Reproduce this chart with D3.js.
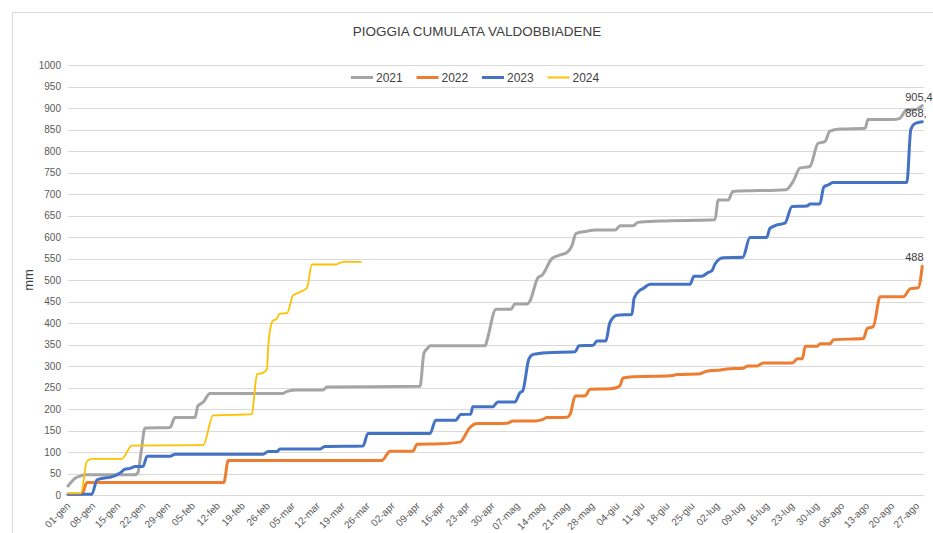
<!DOCTYPE html>
<html><head><meta charset="utf-8">
<script src="https://cdn.jsdelivr.net/npm/d3@7"></script>
<style>
body{margin:0;background:#fff}
svg{display:block}
text{font-family:"Liberation Sans",Arial,sans-serif}
</style>
</head><body>
<svg id="c" width="933" height="533"></svg>
<script>
const title = "PIOGGIA CUMULATA VALDOBBIADENE";
const yTitle = "mm";
const years = ["2021", "2022", "2023", "2024"];
const colors = ["#A5A5A5", "#ED7D31", "#4472C4", "#FFC000"];
const xTickLabels = ["01-gen","08-gen","15-gen","22-gen","29-gen","05-feb","12-feb","19-feb","26-feb",
  "05-mar","12-mar","19-mar","26-mar","02-apr","09-apr","16-apr","23-apr","30-apr","07-mag","14-mag",
  "21-mag","28-mag","04-giu","11-giu","18-giu","25-giu","02-lug","09-lug","16-lug","23-lug","30-lug",
  "06-ago","13-ago","20-ago","27-ago"];
const yTicks = [0,50,100,150,200,250,300,350,400,450,500,550,600,650,700,750,800,850,900,950,1000];
// [day since 1 Jan, cumulative mm]
const s2021 = [[0,21],[2,39],[3.4,44],[4.8,47],[18.8,47],[19.6,52],[20.5,100],[21.6,156],[28.6,157],[30,180],
  [35.6,180],[36.4,207],[37.9,216],[39.8,236],[60.3,236],[61.4,241],[64.2,244],[71.5,244],[72.6,251],[98.7,253],
  [99.8,330],[100.7,340],[101.5,347],[117,347],[117.5,360],[120,432],[124.2,432],[125.3,444],[128.7,444],[129.5,451],
  [131.8,506],[132.9,511],[135.7,550],[137.9,558],[139.9,564],[141.3,580],[142.4,608],[145,613],[148.3,616],[153.4,616],
  [154.8,626],[158.4,626],[159.8,634],[166,637],[181.4,640],[182.3,686],[185.1,686],[186.4,706],[201.3,710],[203.3,729],
  [205.2,760],[208,764],[210.3,818],[212.2,822],[213.6,846],[216.4,851],[223.5,853],[224.3,873],[231.3,873],[233.2,876],
  [235.2,896],[237.5,896],[239.5,905.4]];
const s2022 = [[0,2],[3.9,2],[5.3,29],[43.7,29],[44.9,80],[88,80],[90.3,102],[96.7,102],[97.9,118],[104.3,119],
  [109.9,123],[112.7,157],[114.7,166],[123.1,167],[124.8,172],[130.9,172],[133.2,176],[134.3,180],[139.9,181],[140.8,188],
  [142.2,230],[145,231],[146.4,246],[152,247],[153.9,250],[154.8,255],[155.6,272],[158.4,275],[164,276],[169.6,278],
  [170.7,280],[177.2,282],[179.1,288],[182,290],[184.8,293],[189.3,295],[190.7,300],[193.2,300],[194.9,307],[203.1,307],
  [204.5,317],[205.9,317],[206.7,346],[210.1,346],[210.9,352],[213.7,352],[214.6,361],[223,364],[224.1,387],[225.8,392],
  [227.7,461],[234.2,461],[236.2,480],[238.4,482],[239.5,532]];
const s2023 = [[0,2],[6.7,2],[8.1,35],[9.8,39],[11.8,41],[14.6,51],[16,60],[17.4,62],[18.8,66],[21,66],[22.2,90],
  [28.6,90],[30,95],[54.7,95],[56.1,101],[58.6,101],[59.4,107],[70.7,107],[72,113],[82.7,114],[84.1,143],[101.5,143],
  [103.1,174],[108.7,174],[110.1,187],[112.9,188],[113.5,205],[119.1,205],[120.5,216],[125.3,216],[126.7,238],[127.5,242],
  [129.2,316],[130.4,327],[134.3,331],[142.1,333],[143.3,347],[147.2,348],[148.3,358],[150.8,358],[151.9,400],[153.9,418],
  [158.1,420],[158.7,457],[160.3,476],[161.2,480],[163.2,490],[174.4,490],[175.5,509],[177.7,509],[179.4,517],[180.5,521],
  [181.4,537],[183.6,552],[189.2,553],[191.2,599],[195.9,599],[196.8,620],[198.8,628],[201,632],[203,671],[207.2,672],
  [208,677],[210.8,677],[211.9,716],[213.1,721],[214.5,727],[235.2,727],[236.3,850],[237.5,864],[239.5,868]];
const s2024 = [[0,4],[3.6,4],[5.3,78],[6.7,84],[15.1,84],[17.9,115],[37.9,116],[40.7,185],[51.6,188],[52.2,230],
  [53,281],[54.7,284],[55.8,293],[56.1,340],[56.4,369],[57.5,406],[58.3,408],[59.4,422],[61.4,423],[63.1,464],
  [65,472],[67,482],[68.4,536],[75.1,536],[76.3,540],[77.1,542],[82.1,542]];
const endLabels = [["2021","905,4"],["2023","868,"],["2022","488"]];

const series = [s2021, s2022, s2023, s2024];
const widths = [3, 3, 3, 1.8];

const svg = d3.select("#c");
// chart frame
svg.append("rect").attr("x",12.5).attr("y",12.5).attr("width",940).attr("height",540)
  .attr("fill","#fff").attr("stroke","#d9d9d9");

const x = d3.scaleLinear().domain([0, 240]).range([68, 924]);
const y = d3.scaleLinear().domain([0, 1000]).range([495, 65]);

// gridlines
svg.append("g").selectAll("line").data(yTicks).join("line")
  .attr("x1", 68).attr("x2", 924)
  .attr("y1", d => Math.round(y(d)) + 0.5).attr("y2", d => Math.round(y(d)) + 0.5)
  .attr("stroke", "#d9d9d9").attr("stroke-width", 1);

// y axis labels
const yAxis = d3.axisLeft(y).tickValues(yTicks).tickFormat(d3.format("d")).tickSize(0).tickPadding(0);
const gy = svg.append("g").attr("transform","translate(61,0)").call(yAxis);
gy.select(".domain").remove();
gy.selectAll("text").attr("fill","#595959").style("font-size","10px")
  .style("font-family","'Liberation Sans',Arial,sans-serif");

// x axis labels
const xTicks = xTickLabels.map((d,i) => i*7);
const xAxis = d3.axisBottom(x).tickValues(xTicks).tickFormat((d,i) => xTickLabels[i]).tickSize(0).tickPadding(0);
const gx = svg.append("g").attr("transform","translate(0,504)").call(xAxis);
gx.select(".domain").remove();
gx.selectAll("text").attr("fill","#595959").style("font-size","10px")
  .style("font-family","'Liberation Sans',Arial,sans-serif")
  .attr("text-anchor","end").attr("dy","0.35em").attr("y",0)
  .attr("transform","rotate(-45)");

// y title
svg.append("text").attr("transform","translate(33,280) rotate(-90)")
  .attr("text-anchor","middle").attr("fill","#404040").style("font-size","13px").text(yTitle);

// title
svg.append("text").attr("x",477).attr("y",36).attr("text-anchor","middle")
  .attr("fill","#404040").style("font-size","13.5px").text(title);

// lines
const line = d3.line().x(d => x(d[0])).y(d => y(d[1])).curve(d3.curveMonotoneX);
svg.append("g").selectAll("path").data(series).join("path")
  .attr("d", line).attr("fill","none")
  .attr("stroke", (d,i) => colors[i]).attr("stroke-width", (d,i) => widths[i])
  .attr("stroke-linejoin","round").attr("stroke-linecap","round");

// end labels
endLabels.forEach(([yr, txt]) => {
  const s = series[years.indexOf(yr)];
  const last = s[s.length-1];
  svg.append("text").attr("x", x(last[0]) - 17).attr("y", y(last[1]) - 5)
    .attr("fill","#404040").style("font-size","11px").text(txt);
});

// legend
const lg = svg.append("g");
years.forEach((yr,i) => {
  const x0 = 351 + i*65.5;
  lg.append("line").attr("x1",x0).attr("x2",x0+22).attr("y1",77.5).attr("y2",77.5)
    .attr("stroke",colors[i]).attr("stroke-width", widths[i] === 3 ? 3 : 2);
  lg.append("text").attr("x",x0+25).attr("y",77.5).attr("dy","0.35em")
    .attr("fill","#404040").style("font-size","12px").text(yr);
});
</script>
</body></html>
